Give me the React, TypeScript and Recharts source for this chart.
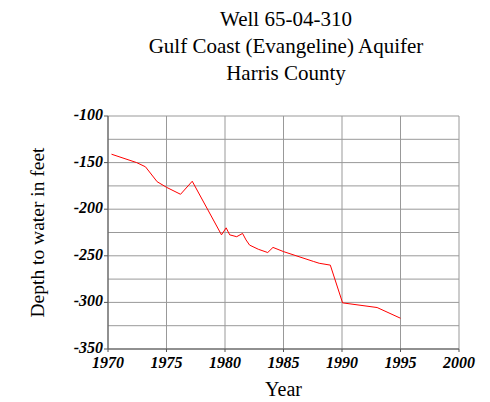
import { LineChart, Line, XAxis, YAxis, CartesianGrid, Label } from 'recharts';

const years = [
  1970.3, 1972.45, 1973.2, 1974.2, 1975.0, 1976.2, 1977.2, 1979.7, 1980.1, 1980.4, 1981.0,
  1981.5, 1981.8, 1982.1, 1982.85, 1983.65, 1984.1, 1985.0, 1987.55, 1988.05, 1989.0,
  1990.05, 1993.0, 1995.0,
];
const depths = [
  -141, -150, -154.5, -170.5, -176.5, -184, -170, -227.5, -220, -227.5, -229.5, -226, -233,
  -238.5, -243, -246.5, -241, -245.5, -256, -258, -260, -300.5, -305.5, -317,
];

const xTicks = [1970, 1975, 1980, 1985, 1990, 1995, 2000];
const yTicks = [-350, -300, -250, -200, -150, -100];
const xGrid = [1970, 1972.5, 1975, 1977.5, 1980, 1982.5, 1985, 1987.5, 1990, 1992.5, 1995, 1997.5, 2000];
const yGrid = [-350, -325, -300, -275, -250, -225, -200, -175, -150, -125, -100];
const titleLines = ['Well 65-04-310', 'Gulf Coast (Evangeline) Aquifer', 'Harris County'];

const data = years.map((y, i) => ({ year: y, depth: depths[i] }));

const serif = "'Liberation Serif', 'Times New Roman', serif";
const tickFont = {
  fontFamily: serif,
  fontSize: 16,
  fontWeight: 700,
  fontStyle: 'italic',
  fill: '#000',
};

const renderXTick = (props: any) => (
  <text x={props.x} y={props.y + 14} textAnchor="middle" style={tickFont}>
    {props.payload.value}
  </text>
);

const renderYTick = (props: any) => (
  <text x={props.x + 1} y={props.y + 4} textAnchor="end" style={tickFont}>
    {props.payload.value}
  </text>
);

export default function App() {
  return (
    <div style={{ position: 'absolute', left: 0, top: 0, width: 490, height: 402, background: '#fff' }}>
      <div
        style={{
          position: 'absolute',
          left: 0,
          top: 6,
          width: 572,
          textAlign: 'center',
          fontFamily: serif,
          fontSize: 21,
          lineHeight: '27px',
          color: '#000',
        }}
      >
        {titleLines.map((t) => (
          <div key={t}>{t}</div>
        ))}
      </div>
      <LineChart
        width={490}
        height={402}
        data={data}
        margin={{ top: 116, right: 31, left: 0, bottom: 0 }}
        style={{ fontFamily: serif }}
      >
        <CartesianGrid
          stroke="#999"
          horizontalValues={yGrid}
          verticalValues={xGrid}
        />
        <XAxis
          type="number"
          dataKey="year"
          domain={[1970, 2000]}
          ticks={xTicks}
          height={53}
          stroke="#555"
          tickSize={3}
          tick={renderXTick}
        >
          <Label
            value="Year"
            position="insideBottom"
            offset={6}
            style={{ fontFamily: serif, fontSize: 20, fill: '#000' }}
          />
        </XAxis>
        <YAxis
          type="number"
          domain={[-350, -100]}
          ticks={yTicks}
          width={108}
          stroke="#555"
          tickSize={4}
          tick={renderYTick}
        >
          <Label
            value="Depth to water in feet"
            angle={-90}
            position="insideLeft"
            offset={37}
            style={{ fontFamily: serif, fontSize: 19.5, fill: '#000', textAnchor: 'middle' }}
          />
        </YAxis>
        <Line
          type="linear"
          dataKey="depth"
          stroke="#ff0000"
          strokeWidth={1}
          dot={false}
          isAnimationActive={false}
        />
      </LineChart>
    </div>
  );
}
